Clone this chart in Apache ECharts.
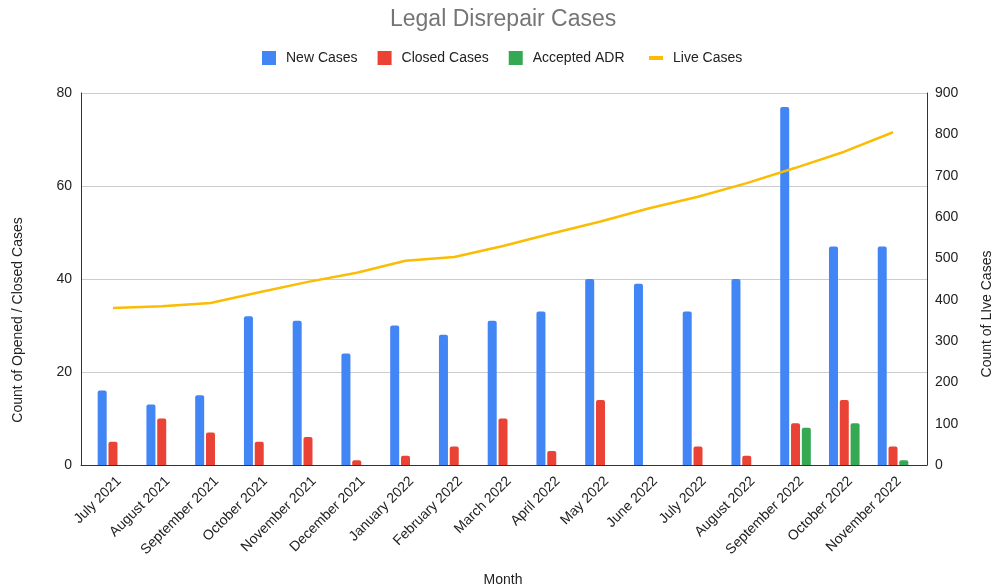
<!DOCTYPE html>
<html>
<head>
<meta charset="utf-8">
<script src="https://cdn.jsdelivr.net/npm/echarts@6/dist/echarts.min.js"></script>
<style>html,body{margin:0;padding:0;background:#fff;}#c{width:992px;height:587px;}</style>
</head>
<body>
<div id="c"></div>
<script>
const months = ['July 2021','August 2021','September 2021','October 2021','November 2021','December 2021','January 2022','February 2022','March 2022','April 2022','May 2022','June 2022','July 2022','August 2022','September 2022','October 2022','November 2022'];
const newCases = [16,13,15,32,31,24,30,28,31,33,40,39,33,40,77,47,47];
const closedCases = [5,10,7,5,6,1,2,4,10,3,14,0,4,2,9,14,4];
const acceptedADR = [0,0,0,0,0,0,0,0,0,0,0,0,0,0,8,9,1];
const liveCases = [380,384,392,418,443,465,494,503,530,560,589,621,649,682,719,758,805];
const leftTicks = {min:0,max:80,interval:20};
const rightTicks = {min:0,max:900,interval:100};

const FONT = 'Liberation Sans, Arial, sans-serif';
const chart = echarts.init(document.getElementById('c'));
const barStyle = (c) => ({color:c, borderRadius:[2,2,0,0]});
chart.setOption({
  animation:false,
  textStyle:{fontFamily:FONT},
  title:{text:'Legal Disrepair Cases', left:385, top:3,
    textStyle:{fontFamily:FONT, fontSize:23, fontWeight:'normal', color:'#757575'}},
  legend:[
    {data:['New Cases','Closed Cases','Accepted ADR'], left:257, top:46, icon:'rect',
     itemWidth:14, itemHeight:14, itemGap:20,
     textStyle:{fontFamily:FONT, fontSize:14, color:'#222', padding:[0,0,0,5]}},
    {data:['Live Cases'], left:644, top:46, icon:'rect', itemWidth:14, itemHeight:4,
     textStyle:{fontFamily:FONT, fontSize:14, color:'#222', padding:[0,0,0,5]}}
  ],
  grid:[
    {left:81, right:65, top:93, bottom:122},
    {left:88.6, right:74.6, top:93, bottom:122},
    {left:94.6, right:68.6, top:93, bottom:122}
  ],
  xAxis:[
    {gridIndex:0, type:'value', min:0, max:1, axisLine:{show:true, lineStyle:{color:'#333', width:1}},
     axisTick:{show:false}, axisLabel:{show:false}, splitLine:{show:false}},
    {gridIndex:1, type:'category', data:months, axisLine:{show:false}, axisTick:{show:false},
     axisLabel:{show:false}},
    {gridIndex:2, type:'category', data:months, axisLine:{show:false}, axisTick:{show:false},
     axisLabel:{rotate:45, fontFamily:FONT, fontSize:14, color:'#222', margin:14, interval:0}}
  ],
  yAxis:[
    {gridIndex:0, type:'value', position:'left', min:leftTicks.min, max:leftTicks.max, interval:leftTicks.interval,
     axisLine:{show:true, lineStyle:{color:'#333'}}, axisTick:{show:false},
     axisLabel:{fontFamily:FONT, fontSize:14, color:'#222', margin:9},
     splitLine:{show:true, lineStyle:{color:'#cccccc'}}},
    {gridIndex:0, type:'value', position:'right', min:rightTicks.min, max:rightTicks.max, interval:rightTicks.interval,
     axisLine:{show:true, lineStyle:{color:'#333'}}, axisTick:{show:false},
     axisLabel:{fontFamily:FONT, fontSize:14, color:'#222', margin:8},
     splitLine:{show:false}},
    {gridIndex:1, type:'value', min:leftTicks.min, max:leftTicks.max, show:false},
    {gridIndex:1, type:'value', min:rightTicks.min, max:rightTicks.max, show:false},
    {gridIndex:2, type:'value', min:leftTicks.min, max:leftTicks.max, show:false}
  ],
  graphic:[
    {type:'text', x:18, y:320, rotation:Math.PI/2,
     style:{text:'Count of Opened / Closed Cases', font:'14px '+FONT, fill:'#222', align:'center', verticalAlign:'middle'}},
    {type:'text', x:987, y:314, rotation:Math.PI/2,
     style:{text:'Count of LIve Cases', font:'14px '+FONT, fill:'#222', align:'center', verticalAlign:'middle'}},
    {type:'text', x:503, y:580,
     style:{text:'Month', font:'14px '+FONT, fill:'#222', align:'center', verticalAlign:'middle'}}
  ],
  series:[
    {name:'New Cases', type:'bar', xAxisIndex:1, yAxisIndex:2, data:newCases, barWidth:9, barGap:'20%', itemStyle:barStyle('#4285F4')},
    {name:'Closed Cases', type:'bar', xAxisIndex:1, yAxisIndex:2, data:closedCases, barWidth:9, barGap:'20%', itemStyle:barStyle('#EA4335')},
    {name:'Accepted ADR', type:'bar', xAxisIndex:1, yAxisIndex:2, data:acceptedADR, barWidth:9, barGap:'20%', itemStyle:barStyle('#34A853')},
    {name:'Live Cases', type:'line', xAxisIndex:1, yAxisIndex:3, data:liveCases, symbol:'none',
     lineStyle:{color:'#FBBC04', width:2.5}, itemStyle:{color:'#FBBC04'}}
  ]
});
</script>
</body>
</html>
